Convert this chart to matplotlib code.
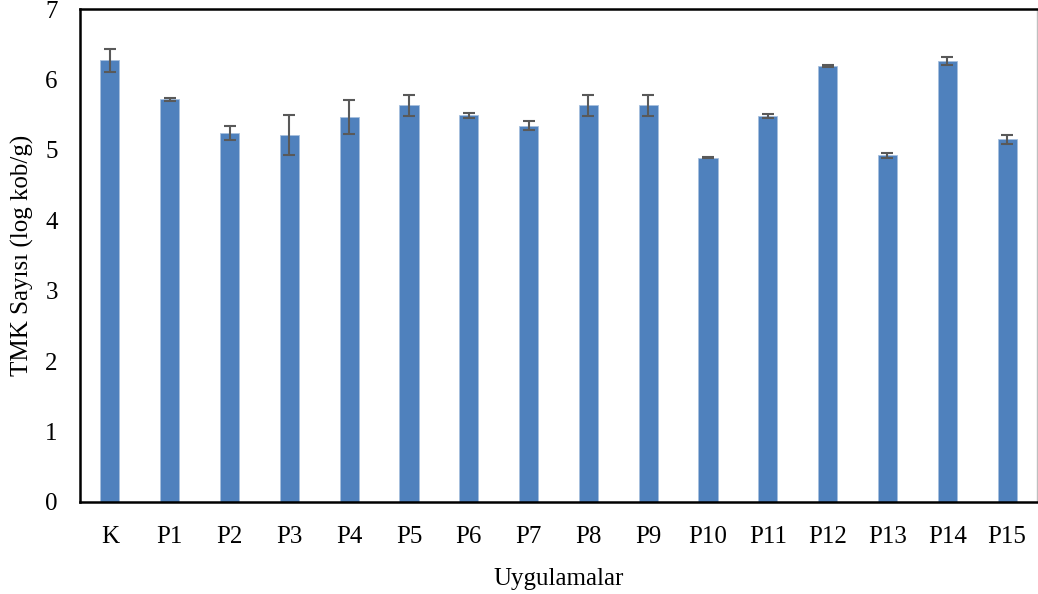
import matplotlib
matplotlib.use("Agg")
import matplotlib.pyplot as plt
import numpy as np

plt.rcParams['font.family'] = ['Liberation Serif', 'DejaVu Serif']

categories = ['K', 'P1', 'P2', 'P3', 'P4', 'P5', 'P6', 'P7',
              'P8', 'P9', 'P10', 'P11', 'P12', 'P13', 'P14', 'P15']
values = [6.27, 5.72, 5.245, 5.21, 5.47, 5.635, 5.49, 5.345,
          5.635, 5.635, 4.89, 5.48, 6.19, 4.92, 6.26, 5.15]
errors = [0.16, 0.02, 0.10, 0.29, 0.24, 0.15, 0.035, 0.06,
          0.15, 0.15, 0.01, 0.03, 0.01, 0.035, 0.055, 0.06]
yticks = [0, 1, 2, 3, 4, 5, 6, 7]

fig = plt.figure(figsize=(10.38, 5.94), dpi=100)
ax = fig.add_axes([80 / 1038, 1 - 502 / 594, 957 / 1038, 493 / 594])

x = np.arange(len(categories))
ax.bar(x, values, width=0.32, color='#4F81BD', edgecolor='#A7C0DE', linewidth=0.6,
       yerr=errors, error_kw=dict(ecolor='#595959', elinewidth=1.5, capsize=4.5, capthick=1.5),
       zorder=2)

ax.set_xlim(-0.5, len(categories) - 0.5)
ax.set_ylim(0, 7)
ax.set_yticks(yticks)
ax.set_xticks(x)
ax.set_xticklabels(categories)
ax.tick_params(axis='y', length=0, pad=16, labelsize=18)
ax.tick_params(axis='x', length=0, pad=17, labelsize=18)

for side in ['left', 'top', 'bottom']:
    ax.spines[side].set_color('black')
    ax.spines[side].set_linewidth(1.8)
ax.spines['right'].set_color('#BFBFBF')
ax.spines['right'].set_linewidth(1.0)

ax.set_xlabel('Uygulamalar', fontsize=18, labelpad=15)
ax.set_ylabel('TMK Sayısı (log kob/g)', fontsize=18, labelpad=8)

fig.savefig('out.png', dpi=100)
